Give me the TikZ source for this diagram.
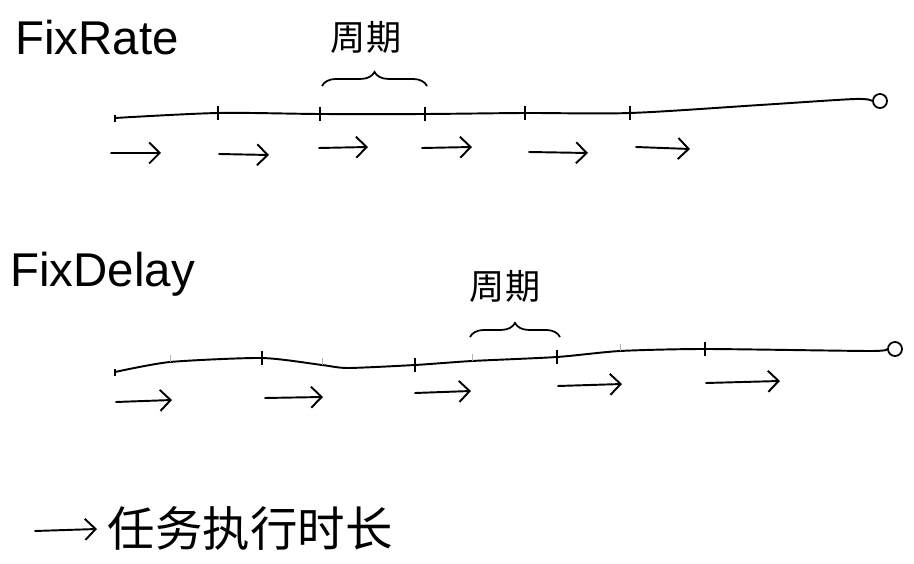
\documentclass[tikz,border=0pt]{standalone}
\usepackage{fontspec}
\setmainfont{Liberation Sans}
\newfontfamily\cjk{Noto Sans CJK SC}
\usetikzlibrary{positioning,arrows.meta,decorations.pathreplacing}

\begin{document}
\begin{tikzpicture}[
  x=0.02cm, y=-0.02cm,
  axis/.style={line width=1.1pt, line cap=round},
  tickmark/.style={line width=1.1pt},
  faint/.style={line width=0.5pt, draw=black!30},
  task/.style={line width=1.1pt, line cap=round,
    -{Straight Barb[length=6pt,width=12pt,line width=1.1pt]}},
  period/.style={decorate, decoration={brace, amplitude=8pt}, line width=1pt},
  title/.style={font=\fontsize{27}{30}\selectfont, anchor=north west, inner sep=0pt},
  cnlabel/.style={font=\cjk\fontsize{20}{22}\selectfont, inner sep=0pt},
  cnlegend/.style={font=\cjk\fontsize{27}{30}\selectfont, inner sep=0pt},
  endmark/.style={circle, draw, line width=1pt, inner sep=0pt, minimum size=8pt}
]
\useasboundingbox (0,0) rectangle (914,564);

% --- FixRate ---
\node[title] (rateTitle) at (15,20) {FixRate};
\coordinate (r0) at (115,118);
\coordinate (r1) at (218,113);
\coordinate (r2) at (320,114);
\coordinate (r3) at (425,114);
\coordinate (r4) at (525,113);
\coordinate (r5) at (630,113);
\coordinate (r6) at (760,105);
\coordinate (r7) at (855,99);
\node[endmark] (rateEnd) at (880,101) {};
\draw[axis] plot[smooth, tension=0.5] coordinates {(r0) (r1) (r2) (r3) (r4) (r5) (r6) (r7) (rateEnd.west)};
\draw[tickmark] (r0) ++(0,-3) -- ++(0,7);
\foreach \t in {r1,r2,r3,r4,r5}
  \draw[tickmark] (\t) ++(0,-7) -- ++(0,14);
\coordinate (rateBraceA) at (322,86);
\coordinate (rateBraceB) at (427,86);
\draw[period] (rateBraceA) -- (rateBraceB);
\node[cnlabel] (ratePeriod) at (366,37) {周期};
\foreach \xa/\ya/\xb/\yb in {111/153/161/153, 219/154/269/155, 319/148/368/147,
                             422/148/472/147, 529/152/588/153, 636/147/690/149}
  \draw[task] (\xa,\ya) -- (\xb,\yb);

% --- FixDelay ---
\node[title] (delayTitle) at (10,252) {FixDelay};
\coordinate (d0) at (115,372);
\coordinate (f1) at (170,362);
\coordinate (d1) at (262,358);
\coordinate (f2) at (322,365);
\coordinate (dLow) at (348,368);
\coordinate (d2) at (415,365);
\coordinate (f3) at (472,361);
\coordinate (d3) at (557,357);
\coordinate (f4) at (620,351);
\coordinate (d4) at (705,349);
\coordinate (d5) at (870,351);
\node[endmark] (delayEnd) at (895,349) {};
\draw[axis] plot[smooth, tension=0.4] coordinates {(d0) (f1) (d1) (f2) (dLow) (d2) (f3) (d3) (f4) (d4) (d5) (delayEnd.west)};
\draw[tickmark] (d0) ++(0,-3) -- ++(0,7);
\foreach \t in {d1,d2,d3,d4}
  \draw[tickmark] (\t) ++(0,-7) -- ++(0,14);
\foreach \t in {f1,f2,f3,f4}
  \draw[faint] (\t) ++(0,-7) -- ++(0,7);
\coordinate (delayBraceA) at (470,337);
\coordinate (delayBraceB) at (560,337);
\draw[period] (delayBraceA) -- (delayBraceB);
\node[cnlabel] (delayPeriod) at (505,286) {周期};
\foreach \xa/\ya/\xb/\yb in {116/402/172/400, 265/398/323/397, 415/393/471/391,
                             558/386/622/384, 706/383/780/381}
  \draw[task] (\xa,\ya) -- (\xb,\yb);

% --- legend ---
\coordinate (legendA) at (35,531);
\coordinate (legendB) at (97,529);
\draw[task] (legendA) -- (legendB);
\node[cnlegend, right=6pt of legendB] (legendText) {任务执行时长};
\end{tikzpicture}
\end{document}
